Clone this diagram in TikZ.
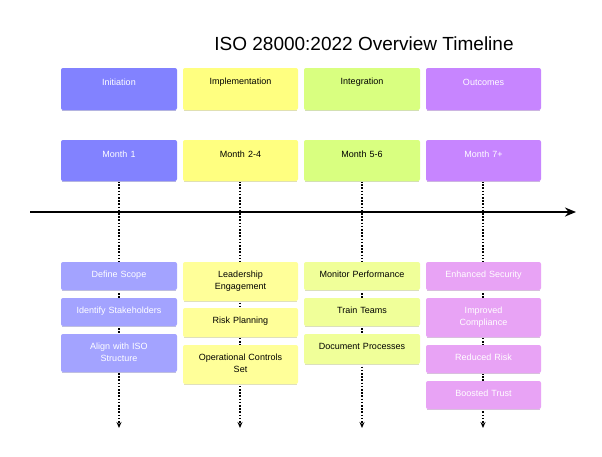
\documentclass[tikz,border=0pt]{standalone}
\usepackage{fontspec}
\setmainfont{Liberation Sans}
\usetikzlibrary{arrows.meta}
\definecolor{cA}{HTML}{8282FF}\definecolor{cAl}{HTML}{A3A3FF}
\definecolor{cB}{HTML}{FFFF80}\definecolor{cBl}{HTML}{FFFF99}
\definecolor{cC}{HTML}{D9FF80}\definecolor{cCl}{HTML}{F0FF99}
\definecolor{cD}{HTML}{C785FF}\definecolor{cDl}{HTML}{E8A3F5}
\tikzset{
 box/.style={inner sep=2pt,align=center,font=\fontsize{9}{11.5}\selectfont,text width=110pt},
 vline/.style={dash pattern=on 1.6pt off 1.6pt,line width=1.2pt,-{Stealth[length=6pt,width=5pt]}}
}
\begin{document}
\begin{tikzpicture}[x=1pt,y=-1pt]
\useasboundingbox (0,0) rectangle (602,456);
\node[font=\fontsize{19}{22}\selectfont] (title) at (364,44) {ISO 28000:2022 Overview Timeline};
\coordinate (axL) at (30,212); \coordinate (axR) at (576,212);
\draw[line width=2pt,-{Stealth[length=11pt,width=9pt]}] (axL) -- (axR);
\foreach \x/\n in {119/a,240/b,362/c,483/d}{
 \coordinate (top\n) at (\x,181); \coordinate (bot\n) at (\x,428);
 \draw[vline] (top\n) -- (bot\n);}
\foreach \xa/\xb/\c/\t/\h/\m/\nm in {61/177/cA/white/Initiation/Month 1/a,183/298/cB/black/Implementation/Month 2-4/b,304/420/cC/black/Integration/Month 5-6/c,426/541/cD/white/Outcomes/Month 7+/d}{
 \fill[\c,rounded corners=2pt] (\xa,68) rectangle (\xb,110);
 \draw[\c!60!gray!60,line width=0.8pt] (\xa+1,110.5) -- (\xb-1,110.5);
 \node[box,text=\t] (h\nm) at ({(\xa+\xb)/2},82) {\h};
 \fill[\c,rounded corners=2pt] (\xa,140) rectangle (\xb,181);
 \draw[\c!60!gray!60,line width=0.8pt] (\xa+1,181.5) -- (\xb-1,181.5);
 \node[box,text=\t] (m\nm) at ({(\xa+\xb)/2},154) {\m};
}
\foreach \xa/\xb/\c/\t/\ya/\yb/\txt/\nm in {
 61/177/cAl/white/262/290/Define Scope/a1,
 61/177/cAl/white/298/326/Identify Stakeholders/a2,
 61/177/cAl/white/334/372/Align with ISO\\Structure/a3,
 183/298/cBl/black/262/301/Leadership\\Engagement/b1,
 183/298/cBl/black/308/337/Risk Planning/b2,
 183/298/cBl/black/345/384/Operational Controls\\Set/b3,
 304/420/cCl/black/262/290/Monitor Performance/c1,
 304/420/cCl/black/298/326/Train Teams/c2,
 304/420/cCl/black/334/364/Document Processes/c3,
 426/541/cDl/white/262/290/Enhanced Security/d1,
 426/541/cDl/white/298/337/Improved\\Compliance/d2,
 426/541/cDl/white/345/373/Reduced Risk/d3,
 426/541/cDl/white/381/409/Boosted Trust/d4}{
 \fill[\c,rounded corners=2pt] (\xa,\ya) rectangle (\xb,\yb);
 \draw[\c!60!gray!60,line width=0.8pt] (\xa+1,\yb+0.5) -- (\xb-1,\yb+0.5);
 \node[box,text=\t,anchor=north] (t\nm) at ({(\xa+\xb)/2},\ya+7) {\txt};
}
\end{tikzpicture}
\end{document}
